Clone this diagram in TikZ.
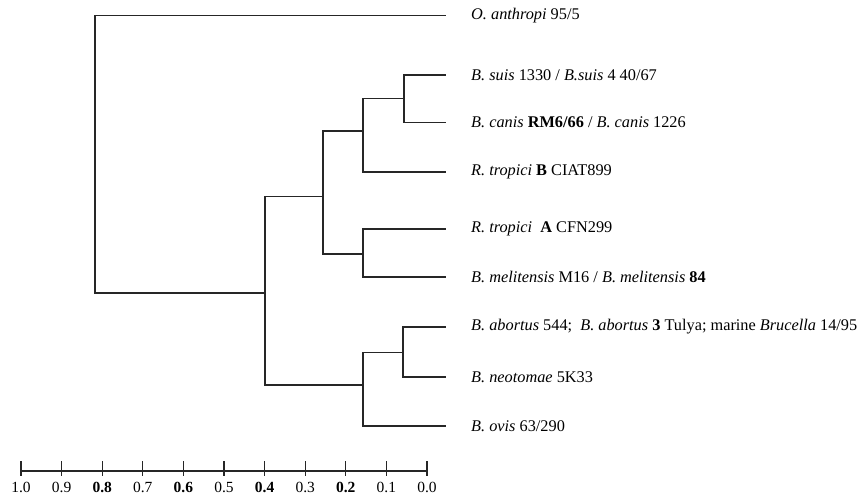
\documentclass[tikz,border=0pt]{standalone}
\usepackage{fontspec}
\setmainfont{Liberation Serif}
\begin{document}
\begin{tikzpicture}[x=1pt,y=-1pt,
  br/.style={line width=1.1pt, black!85},
  leaf/.style={anchor=west, inner xsep=25pt, inner ysep=0pt, font=\fontsize{16.3}{19}\selectfont},
  ticklab/.style={font=\fontsize{15.5}{18}\selectfont, inner sep=0pt}]
\useasboundingbox (0,0) rectangle (863,502);

% leaf labels (west edge = end of branch line)
\node[leaf] (tO)     at (446,15.5) {\textit{O. anthropi} 95/5};
\node[leaf] (tSuis)  at (446,75)   {\textit{B. suis} 1330 / \textit{B.suis} 4 40/67};
\node[leaf] (tCanis) at (446,122.5){\textit{B. canis} \textbf{RM6/66} / \textit{B. canis} 1226};
\node[leaf] (tTropB) at (446,172)  {\textit{R. tropici} \textbf{B} CIAT899};
\node[leaf] (tTropA) at (446,229)  {\textit{R. tropici}\ \ \textbf{A} CFN299};
\node[leaf] (tMeli)  at (446,277)  {\textit{B. melitensis} M16 / \textit{B. melitensis} \textbf{84}};
\node[leaf] (tAbort) at (446,327)  {\textit{B. abortus} 544;\ \ \textit{B. abortus} \textbf{3} Tulya; marine \textit{Brucella} 14/95};
\node[leaf] (tNeo)   at (446,377)  {\textit{B. neotomae} 5K33};
\node[leaf] (tOvis)  at (446,426)  {\textit{B. ovis} 63/290};

% internal nodes (junction points)
\coordinate (r) at (95,154);
\coordinate (a) at (265,293);
\coordinate (b) at (323,196.7);
\coordinate (d) at (363,131);
\coordinate (f) at (404,98.5);
\coordinate (e) at (363,254);
\coordinate (c) at (363,385);
\coordinate (g) at (403,352.7);

% branches
\draw[br] (r) |- (tO);
\draw[br] (r) |- (a);
\draw[br] (a) |- (b);
\draw[br] (a) |- (c);
\draw[br] (b) |- (d);
\draw[br] (b) |- (e);
\draw[br] (d) |- (f);
\draw[br] (d) |- (tTropB);
\draw[br] (f) |- (tSuis);
\draw[br] (f) |- (tCanis);
\draw[br] (e) |- (tTropA);
\draw[br] (e) |- (tMeli);
\draw[br] (c) |- (g);
\draw[br] (c) |- (tOvis);
\draw[br] (g) |- (tAbort);
\draw[br] (g) |- (tNeo);

% scale axis
\coordinate (ax0) at (21,471);
\coordinate (ax1) at (427,471);
\draw[br] (ax0) -- (ax1);
\foreach \i/\lab in {0/1.0,1/0.9,2/\textbf{0.8},3/0.7,4/\textbf{0.6},5/0.5,6/\textbf{0.4},7/0.3,8/\textbf{0.2},9/0.1,10/0.0}{
  \coordinate (k\i) at ({21+40.6*\i},471);
  \draw[br] (k\i) ++(0,-9.5) -- ++(0,14.5);
  \node[ticklab] (lab\i) at ({21+40.6*\i},487) {\lab};
}
\end{tikzpicture}
\end{document}
